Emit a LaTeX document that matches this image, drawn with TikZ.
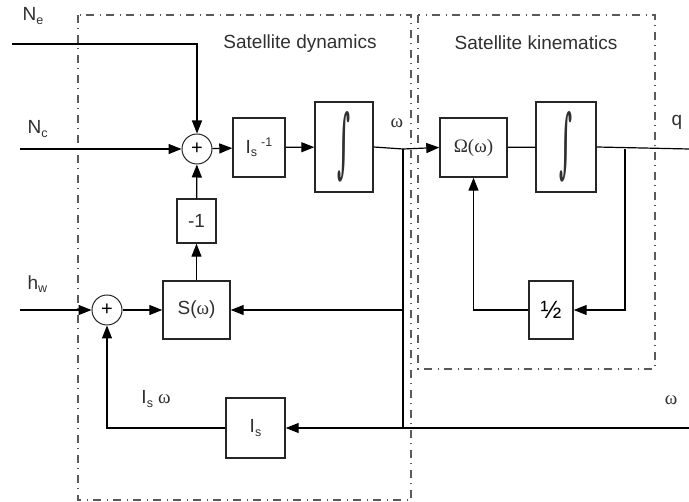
\documentclass[tikz,border=0pt]{standalone}
\usepackage{fontspec}
\setmainfont{Liberation Sans}
\newfontfamily\serif{Liberation Serif}
\newfontfamily\intfont{DejaVu Serif}
\usepackage{graphicx}
\usetikzlibrary{arrows.meta}
\newcommand{\mysub}[1]{\raisebox{-3.5pt}{\fontsize{12.5}{13}\selectfont #1}}
\newcommand{\mysup}[1]{\raisebox{7pt}{\fontsize{12.5}{13}\selectfont #1}}
\newcommand{\myint}{\resizebox{13pt}{57pt}{\intfont\bfseries ∫}}
\definecolor{txt}{HTML}{303030}
\begin{document}
\begin{tikzpicture}[x=1pt,y=-1pt,
  font=\fontsize{19}{22}\selectfont\color{txt},
  every path/.style={line width=1.2pt},
  blk/.style={draw=black!85, line width=1.4pt, inner sep=0pt},
  sumc/.style={draw=black!85, circle, line width=1pt, minimum size=30pt, inner sep=0pt, font=\fontsize{20}{20}\selectfont},
  arr/.style={-{Triangle[length=13pt,width=10pt]}},
  dd/.style={draw=black!65, line width=1.1pt, dash pattern=on 8pt off 5.5pt on 1pt off 5.5pt},
  lbl/.style={inner sep=0pt}]
\useasboundingbox (0,0) rectangle (689,502);
% frames
\draw[dd] (78,15) rectangle (411,500);
\draw[dd] (418,15) rectangle (655,369);
\node[lbl] (td) at (300,44) {Satellite dynamics};
\node[lbl] (tk) at (536,43) {Satellite kinematics};
% blocks
\node[sumc] (s1) at (197,149) {+};
\node[blk, minimum width=52pt, minimum height=59pt] (inv) at (259,147.5) {I\mysub{s}\hspace{4pt}\mysup{-1}};
\node[blk, minimum width=58pt, minimum height=90pt] (int1) at (344,147) {\myint};
\node[blk, minimum width=67pt, minimum height=59pt] (om) at (473.5,147.5) {\serif Ω(ω)};
\node[blk, minimum width=60pt, minimum height=90pt] (int2) at (566,147) {\myint};
\node[blk, minimum width=44pt, minimum height=58pt, font=\fontsize{25}{25}\selectfont] (half) at (551,310) {½};
\node[blk, minimum width=67pt, minimum height=58pt] (S) at (196.5,310) {S({\serif ω})};
\node[blk, minimum width=39pt, minimum height=44pt] (m1) at (196.5,221) {-1};
\node[sumc] (s2) at (107,310) {+};
\node[blk, minimum width=59pt, minimum height=60pt] (Is) at (255.5,428) {I\mysub{s}};
% labels
\node[lbl, anchor=west] (lne) at (22,16) {N\mysub{e}};
\node[lbl, anchor=west] (lnc) at (27,129) {N\mysub{c}};
\node[lbl, anchor=west] (lhw) at (27,284) {h\mysub{w}};
\node[lbl] (lw1) at (397,123) {\serif ω};
\node[lbl] (lq) at (677,122) {q};
\node[lbl] (lisw) at (156,399) {I\mysub{s}\hspace{5pt}{\serif ω}};
\node[lbl] (lw2) at (671,400) {\serif ω};
% coordinates
\coordinate (ne) at (12,44);
\coordinate (nc) at (20,149);
\coordinate (hw) at (20,310);
\coordinate (b1) at (403,149);
\coordinate (b2) at (403,310);
\coordinate (b3) at (403,428);
\coordinate (k1) at (625,149);
\coordinate (qend) at (689,149);
\coordinate (wend) at (689,428);
% connectors
\draw[arr] (ne) -| (s1.north);
\draw[arr] (nc) -- (s1.west);
\draw[arr] (s1) -- (inv);
\draw[arr] (inv) -- (int1);
\draw (int1.east) -- (b1);
\draw[arr] (b1) -- (om.west);
\draw (b1) -- (b3);
\draw (om) -- (int2);
\draw (int2.east) -- (qend);
\draw[arr] (k1) |- (half.east);
\draw[arr] (half.west) -| (om.south);
\draw[arr] (b2) -- (S.east);
\draw[arr] (S) -- (m1);
\draw[arr] (m1) -- (s1);
\draw[arr] (hw) -- (s2.west);
\draw[arr] (s2) -- (S);
\draw[arr] (wend) -- (Is.east);
\draw[arr] (Is.west) -| (s2.south);
\end{tikzpicture}
\end{document}
